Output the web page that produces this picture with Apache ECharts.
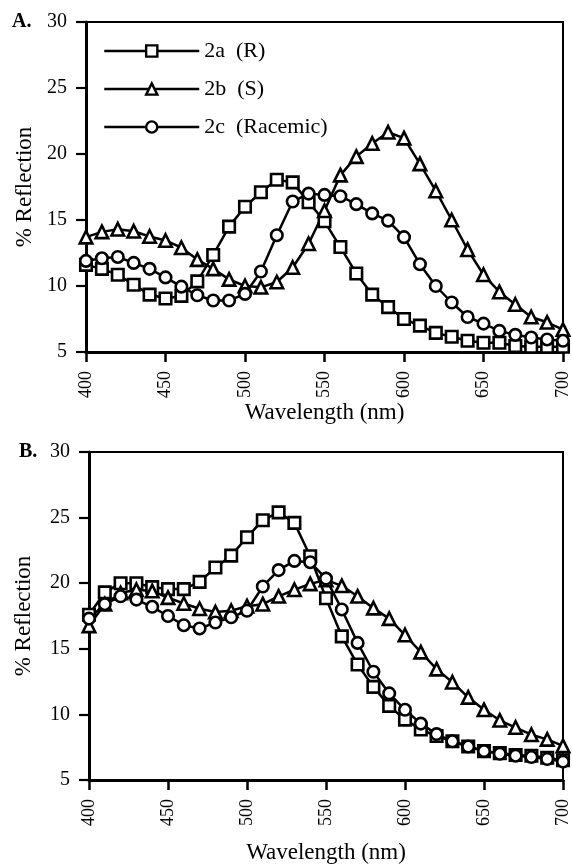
<!DOCTYPE html>
<html>
<head>
<meta charset="utf-8">
<script src="https://cdn.jsdelivr.net/npm/echarts@6/dist/echarts.min.js"></script>
<style>
html,body{margin:0;padding:0;background:#fff;}
#chart{width:572px;height:865px;}
</style>
</head>
<body>
<div id="chart"></div>
<script>
// Wavelengths (nm)
const wavelengths = [400,410,420,430,440,450,460,470,480,490,500,510,520,530,540,550,560,570,580,590,600,610,620,630,640,650,660,670,680,690,700];
const xTicks = [400,450,500,550,600,650,700];
const yTicks = [5,10,15,20,25,30];
const seriesNames = ['2a  (R)', '2b  (S)', '2c  (Racemic)'];

// Panel A
const a_2a = [11.6,11.3,10.85,10.1,9.35,9.05,9.25,10.35,12.35,14.5,16.0,17.1,18.05,17.85,16.35,14.9,12.95,10.95,9.35,8.4,7.5,7.0,6.45,6.15,5.85,5.7,5.7,5.45,5.4,5.4,5.4];
const a_2b = [13.7,14.1,14.3,14.15,13.75,13.45,12.9,12.0,11.3,10.5,10.0,9.9,10.3,11.4,13.2,15.7,18.4,19.8,20.8,21.65,21.2,19.25,17.2,15.0,12.75,10.85,9.55,8.6,7.65,7.25,6.7];
const a_2c = [11.9,12.1,12.2,11.75,11.3,10.65,9.95,9.3,8.9,8.9,9.4,11.1,13.85,16.4,17.0,16.9,16.8,16.2,15.5,14.95,13.7,11.65,10.0,8.75,7.65,7.15,6.6,6.3,6.1,5.95,5.85];

// Panel B
const b_2a = [17.6,19.3,20.0,20.0,19.7,19.55,19.55,20.1,21.2,22.1,23.5,24.8,25.4,24.6,22.05,18.85,15.95,13.8,12.1,10.65,9.6,8.85,8.35,7.95,7.55,7.2,7.05,6.9,6.85,6.7,6.5];
const b_2b = [16.75,18.4,19.25,19.5,19.4,18.9,18.45,18.05,17.8,17.9,18.25,18.4,19.0,19.5,19.95,20.25,19.8,19.0,18.1,17.3,16.05,14.75,13.45,12.45,11.3,10.35,9.55,9.0,8.45,8.1,7.6];
const b_2c = [17.3,18.4,19.0,18.75,18.2,17.5,16.8,16.55,17.0,17.4,17.9,19.75,21.0,21.7,21.6,20.35,18.0,15.45,13.25,11.6,10.35,9.3,8.5,7.95,7.55,7.2,7.0,6.85,6.75,6.6,6.4];

const FONT = '"Liberation Serif", "Times New Roman", serif';
const symbols = ['rect','triangle','circle'];
const symbolSizes = [11.5,12.5,11.5];

function pairs(vals){ return wavelengths.map((w,i)=>[w, vals[i]]); }

function mkSeries(name, idx, vals, axisIdx){
  return {
    name: name, type: 'line',
    xAxisIndex: axisIdx, yAxisIndex: axisIdx,
    data: pairs(vals),
    symbol: symbols[idx], symbolSize: symbolSizes[idx],
    showAllSymbol: true,
    lineStyle: {color:'#000', width:2.5},
    itemStyle: {color:'#fff', borderColor:'#000', borderWidth:2.6},
    emphasis: {disabled:true},
    animation: false
  };
}

function mkX(gridIndex, gap){
  return {
    type:'value', gridIndex: gridIndex, min: xTicks[0], max: xTicks[xTicks.length-1], interval: 50,
    name:'Wavelength (nm)', nameLocation:'middle', nameGap: gap,
    nameTextStyle:{fontFamily:FONT, fontSize:23, color:'#000'},
    axisLine:{onZero:false, lineStyle:{color:'#000', width:3}},
    axisTick:{show:true, length:10, lineStyle:{color:'#000', width:2.5}},
    axisLabel:{rotate:90, margin:19, fontFamily:FONT, fontSize:18, color:'#000'},
    splitLine:{show:false}
  };
}
function mkY(gridIndex, gap){
  return {
    type:'value', gridIndex: gridIndex, min: yTicks[0], max: yTicks[yTicks.length-1], interval: 5,
    name:'% Reflection', nameLocation:'middle', nameGap: gap, nameRotate: 90,
    nameTextStyle:{fontFamily:FONT, fontSize:23, color:'#000'},
    axisLine:{onZero:false, lineStyle:{color:'#000', width:3}},
    axisTick:{show:true, length:10, lineStyle:{color:'#000', width:2.2}},
    axisLabel:{margin:19, fontFamily:FONT, fontSize:20, color:'#000'},
    splitLine:{show:false}
  };
}

const chart = echarts.init(document.getElementById('chart'), null, {renderer:'canvas'});
chart.setOption({
  backgroundColor:'#fff',
  animation:false,
  grid:[
    {left:86, right:6, top:22, height:330, show:true, borderColor:'#000', borderWidth:2, backgroundColor:'transparent'},
    {left:89, right:3, top:452, height:330, show:true, borderColor:'#000', borderWidth:2, backgroundColor:'transparent'}
  ],
  xAxis:[mkX(0,48), mkX(1,61)],
  yAxis:[mkY(0,50), mkY(1,54)],
  legend:{
    data: seriesNames,
    orient:'vertical', left:98, top:35,
    itemWidth:95, itemHeight:14, itemGap:16,
    lineStyle:{width:2.5, color:'#000'},
    itemStyle:{borderWidth:2.4, borderColor:'#000', color:'#fff'},
    textStyle:{fontFamily:FONT, fontSize:22, color:'#000'},
    selectedMode:false
  },
  graphic:[
    {type:'text', left:12, top:12, style:{text:'A.', fontFamily:FONT, fontSize:20, fontWeight:'bold', fill:'#000'}},
    {type:'text', left:19, top:442, style:{text:'B.', fontFamily:FONT, fontSize:20, fontWeight:'bold', fill:'#000'}}
  ],
  series:[
    mkSeries(seriesNames[0],0,a_2a,0),
    mkSeries(seriesNames[1],1,a_2b,0),
    mkSeries(seriesNames[2],2,a_2c,0),
    mkSeries(seriesNames[0],0,b_2a,1),
    mkSeries(seriesNames[1],1,b_2b,1),
    mkSeries(seriesNames[2],2,b_2c,1)
  ]
});
</script>
</body>
</html>
